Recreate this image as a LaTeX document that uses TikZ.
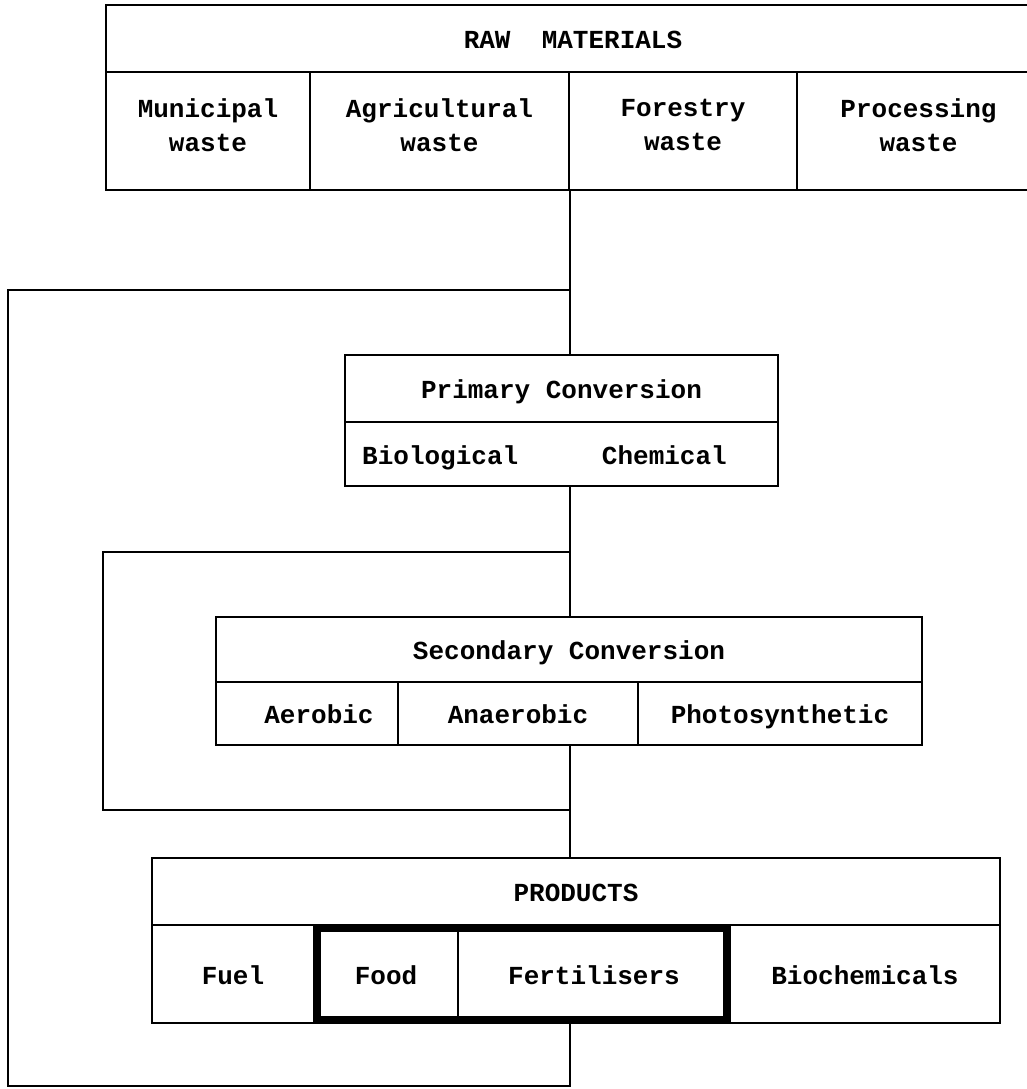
\documentclass[tikz,border=0pt]{standalone}
\usepackage{fontspec}
\setmonofont{Liberation Mono}
\usetikzlibrary{positioning}

\tikzstyle{cell} = [
    rectangle,
    draw=black,
    line width=2.8pt,
    inner sep=0pt,
    outer sep=0pt,
    text centered,
    align=center,
    font=\ttfamily\bfseries\fontsize{26}{34}\selectfont
]
\tikzstyle{oneline} = [
    text height=22pt,
    text depth=2pt
]
\tikzstyle{word} = [
    inner sep=0pt,
    text height=22pt,
    text depth=2pt,
    font=\ttfamily\bfseries\fontsize{26}{34}\selectfont
]
\tikzstyle{wire} = [
    line width=2.8pt
]
\tikzstyle{heavy} = [
    line width=7pt
]

\begin{document}
\begin{tikzpicture}[x=1pt, y=-1pt]

        \useasboundingbox (0,0) rectangle (1027,1089);
        \clip (0,0) rectangle (1027,1089);

        \coordinate (trunk)       at (570,0);
        \coordinate (outerTop)    at (570,290);
        \coordinate (outerCorner) at (8,1086);
        \coordinate (outerBot)    at (570,1086);
        \coordinate (innerTop)    at (570,552);
        \coordinate (innerCorner) at (103,810);
        \coordinate (innerBot)    at (570,810);

        % raw materials
        \node (rawHead)      [cell, oneline, minimum width=934pt, minimum height=67pt]                           at (573,38.5) {RAW\ \ MATERIALS};
        \node (municipal)    [cell, text depth=12pt, minimum width=204pt, minimum height=118pt, below right=0pt and 0pt of rawHead.south west] {Municipal\\waste};
        \node (agricultural) [cell, text depth=12pt, minimum width=259pt, minimum height=118pt, right=0pt of municipal]    {Agricultural\\waste};
        \node (forestry)     [cell, text depth=12pt, minimum width=228pt, minimum height=118pt, right=0pt of agricultural] {Forestry\\waste};
        \node (processing)   [cell, text depth=12pt, minimum width=243pt, minimum height=118pt, right=0pt of forestry]     {Processing\\waste};

        % primary conversion
        \node (primHead)     [cell, oneline, minimum width=433pt, minimum height=67pt]                           at (561.5,388.5) {Primary Conversion};
        \node (primBody)     [cell, minimum width=433pt, minimum height=64pt, below=0pt of primHead]             {};
        \node (biological)   [word, right=17pt of primBody.west]                                                 {Biological};
        \node (chemical)     [word, left=51pt of primBody.east]                                                  {Chemical};

        % secondary conversion
        \node (secHead)      [cell, oneline, minimum width=706pt, minimum height=65pt]                           at (569,649.5) {Secondary Conversion};
        \node (aerobic)      [cell, oneline, minimum width=182pt, minimum height=63pt, below right=0pt and 0pt of secHead.south west] {\hspace{24pt}Aerobic};
        \node (anaerobic)    [cell, oneline, minimum width=240pt, minimum height=63pt, right=0pt of aerobic]    {Anaerobic};
        \node (photo)        [cell, oneline, minimum width=284pt, minimum height=63pt, right=0pt of anaerobic]  {Photosynthetic};

        % products
        \node (prodHead)     [cell, oneline, minimum width=848pt, minimum height=67pt]                           at (576,891.5) {PRODUCTS};
        \node (fuel)         [cell, oneline, minimum width=162pt, minimum height=98pt, below right=0pt and 0pt of prodHead.south west] {Fuel};
        \node (food)         [cell, oneline, minimum width=144pt, minimum height=98pt, right=0pt of fuel]        {Food};
        \node (fertilisers)  [cell, oneline, minimum width=272pt, minimum height=98pt, right=0pt of food]        {Fertilisers};
        \node (biochem)      [cell, oneline, minimum width=270pt, minimum height=98pt, right=0pt of fertilisers] {Biochemicals};
        \draw [heavy] ([shift={(3.5,3.5)}]food.north west) rectangle ([shift={(-3.5,-3.5)}]fertilisers.south east);

        % trunk and loops
        \draw [wire] (municipal.south -| trunk)  --  (primHead.north -| trunk);
        \draw [wire] (primBody.south -| trunk)   --  (secHead.north -| trunk);
        \draw [wire] (aerobic.south -| trunk)    --  (prodHead.north -| trunk);
        \draw [wire] (outerTop)  -|  (outerCorner)  --  (outerBot)  --  (fuel.south -| trunk);
        \draw [wire] (innerTop)  -|  (innerCorner)  --  (innerBot);

\end{tikzpicture}
\end{document}
